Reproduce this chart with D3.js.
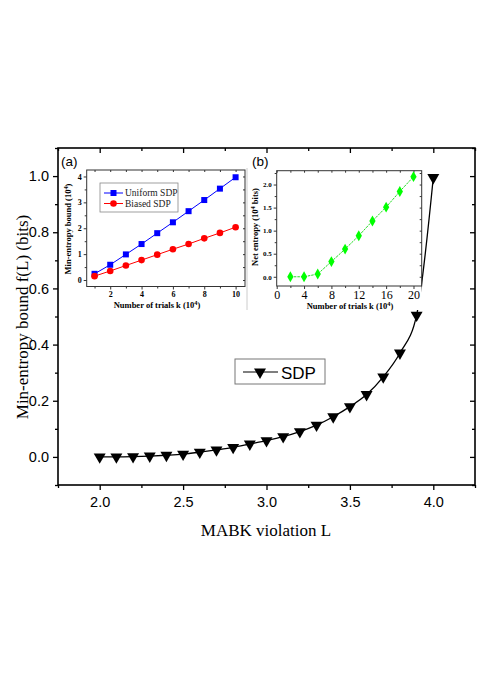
<!DOCTYPE html>
<html><head><meta charset="utf-8">
<script src="https://cdn.jsdelivr.net/npm/d3@7"></script>
<style>body{margin:0;background:#fff}svg{display:block}</style>
</head><body>
<script>
// ---- data ----
const mainL = [2.0,2.1,2.2,2.3,2.4,2.5,2.6,2.7,2.8,2.9,3.0,3.1,3.2,3.3,3.4,3.5,3.6,3.7,3.8,3.9,4.0];
const mainF = [0.000,0.000,0.001,0.003,0.006,0.010,0.017,0.025,0.034,0.046,0.058,0.072,0.090,0.113,0.143,0.179,0.222,0.285,0.370,0.505,0.995];
const mainXTicks = [2.0,2.5,3.0,3.5,4.0];
const mainYTicks = [0.0,0.2,0.4,0.6,0.8,1.0];

const trialsA = [1,2,3,4,5,6,7,8,9,10];
const uniformA = [0.24,0.59,0.99,1.39,1.81,2.23,2.66,3.09,3.53,3.97];
const biasedA = [0.15,0.35,0.56,0.77,0.98,1.19,1.39,1.61,1.82,2.04];
const aXTicks = [2,4,6,8,10];
const aYTicks = [0,1,2,3,4];

const trialsB = [2,4,6,8,10,12,14,16,18,20];
const netB = [0.0,0.0,0.06,0.33,0.60,0.89,1.21,1.51,1.85,2.17];
const bXTicks = [0,4,8,12,16,20];
const bYTicks = [0.0,0.5,1.0,1.5,2.0];

const W = 480, H = 679;
const svg = d3.select("body").append("svg").attr("width", W).attr("height", H);
svg.append("rect").attr("width", W).attr("height", H).attr("fill", "#fff");

const SANS = "'Liberation Sans', Arial, sans-serif";
const SERIF = "'Liberation Serif', 'Times New Roman', serif";

// ---- main chart ----
const x = d3.scaleLinear().domain([1.75, 4.25]).range([58, 475]);
const y = d3.scaleLinear().domain([-0.1, 1.1]).range([485, 148]);

const gMain = svg.append("g");
const xMinor = d3.range(1.75, 4.26, 0.25).filter(v => !mainXTicks.some(t => Math.abs(t - v) < 1e-6));
const yMinor = d3.range(-0.1, 1.11, 0.2).map(v => +v.toFixed(2));

function styleAxis(g, fs, font) {
  g.select(".domain").remove();
  g.selectAll("line").attr("stroke", "#000").attr("stroke-width", 1.3);
  g.selectAll("text").attr("font-family", font).attr("font-size", fs).attr("fill", "#000");
}
// bottom
gMain.append("g").attr("transform", `translate(0,${y.range()[0]})`)
  .call(d3.axisBottom(x).tickValues(mainXTicks).tickSize(5).tickPadding(7).tickFormat(d3.format(".1f")))
  .call(g => styleAxis(g, 14.5, SANS));
gMain.append("g").attr("transform", `translate(0,${y.range()[0]})`)
  .call(d3.axisBottom(x).tickValues(xMinor).tickSize(3).tickFormat(""))
  .call(g => styleAxis(g, 14, SANS));
// top (inward)
gMain.append("g").attr("transform", `translate(0,${y.range()[1]})`)
  .call(d3.axisBottom(x).tickValues(mainXTicks).tickSize(5).tickFormat(""))
  .call(g => styleAxis(g, 14, SANS));
gMain.append("g").attr("transform", `translate(0,${y.range()[1]})`)
  .call(d3.axisBottom(x).tickValues(xMinor).tickSize(3).tickFormat(""))
  .call(g => styleAxis(g, 14, SANS));
// left
gMain.append("g").attr("transform", `translate(${x.range()[0]},0)`)
  .call(d3.axisLeft(y).tickValues(mainYTicks).tickSize(5).tickPadding(4).tickFormat(d3.format(".1f")))
  .call(g => styleAxis(g, 14.5, SANS));
gMain.append("g").attr("transform", `translate(${x.range()[0]},0)`)
  .call(d3.axisLeft(y).tickValues(yMinor).tickSize(3).tickFormat(""))
  .call(g => styleAxis(g, 14, SANS));
// right (inward)
gMain.append("g").attr("transform", `translate(${x.range()[1]},0)`)
  .call(d3.axisLeft(y).tickValues(mainYTicks).tickSize(5).tickFormat(""))
  .call(g => styleAxis(g, 14, SANS));
gMain.append("g").attr("transform", `translate(${x.range()[1]},0)`)
  .call(d3.axisLeft(y).tickValues(yMinor).tickSize(3).tickFormat(""))
  .call(g => styleAxis(g, 14, SANS));

// data line
const mainData = mainL.map((l, i) => [l, mainF[i]]);
gMain.append("path").datum(mainData)
  .attr("fill", "none").attr("stroke", "#000").attr("stroke-width", 1.3)
  .attr("d", d3.line().x(d => x(d[0])).y(d => y(d[1])).curve(d3.curveMonotoneX));
const tri = d3.symbol().type(d3.symbolTriangle).size(62);
gMain.selectAll(".m").data(mainData).enter().append("path")
  .attr("d", tri).attr("fill", "#000")
  .attr("transform", d => `translate(${x(d[0])},${y(d[1])}) rotate(180)`);

// frame
gMain.append("rect").attr("x", x.range()[0]).attr("y", y.range()[1])
  .attr("width", x.range()[1] - x.range()[0]).attr("height", y.range()[0] - y.range()[1])
  .attr("fill", "none").attr("stroke", "#000").attr("stroke-width", 1.6);

// titles
svg.append("text").attr("x", 266).attr("y", 536).attr("text-anchor", "middle")
  .attr("font-family", SERIF).attr("font-size", 17).text("MABK violation L");
svg.append("text").attr("transform", "translate(28,317) rotate(-90)").attr("text-anchor", "middle")
  .attr("font-family", SERIF).attr("font-size", 17).text("Min-entropy bound f(L) (bits)");

// main legend
const lg = svg.append("g");
lg.append("rect").attr("x", 235).attr("y", 359).attr("width", 90).attr("height", 25)
  .attr("fill", "#fff").attr("stroke", "#777").attr("stroke-width", 1);
lg.append("line").attr("x1", 243).attr("x2", 278).attr("y1", 372).attr("y2", 372).attr("stroke", "#000").attr("stroke-width", 1.2);
lg.append("path").attr("d", tri).attr("fill", "#000").attr("transform", "translate(260,372) rotate(180)");
lg.append("text").attr("x", 281).attr("y", 379).attr("font-family", SANS).attr("font-size", 17).text("SDP");

// ---- inset backgrounds ----
svg.append("rect").attr("x", 60).attr("y", 166).attr("width", 186).attr("height", 146).attr("fill", "#fff");
svg.append("rect").attr("x", 247).attr("y", 166).attr("width", 174.5).attr("height", 144).attr("fill", "#fff");
svg.append("line").attr("x1", 247).attr("x2", 247).attr("y1", 168).attr("y2", 310).attr("stroke", "#ccc").attr("stroke-width", 1);

// panel labels
svg.append("text").attr("x", 61).attr("y", 166).attr("font-family", SANS).attr("font-size", 13.5).text("(a)");
svg.append("text").attr("x", 252).attr("y", 166).attr("font-family", SANS).attr("font-size", 13.5).text("(b)");

function supTitle(g, parts) {
  g.append("tspan").text(parts[0]);
  g.append("tspan").attr("dy", -3).attr("font-size", "75%").text(parts[1]);
  g.append("tspan").attr("dy", 3).text(parts[2]);
}

// ---- inset a ----
const xa = d3.scaleLinear().domain([0.5, 10.6]).range([86.7, 245]);
const ya = d3.scaleLinear().domain([-0.25, 4.25]).range([286.5, 170]);
const ga = svg.append("g");
const aXMinor = trialsA.filter(v => !aXTicks.includes(v));
const aYMinor = [0.5,1.5,2.5,3.5];
ga.append("g").attr("transform", `translate(0,${ya.range()[0]})`)
  .call(d3.axisBottom(xa).tickValues(aXTicks).tickSize(3).tickPadding(2).tickFormat(d3.format("d")))
  .call(g => styleAxis(g, 8, SERIF)).call(g => g.selectAll("text").attr("font-weight", "bold"))
  .call(g => g.selectAll("line").attr("stroke-width", 0.8));
ga.append("g").attr("transform", `translate(0,${ya.range()[0]})`)
  .call(d3.axisBottom(xa).tickValues(aXMinor).tickSize(2).tickFormat(""))
  .call(g => styleAxis(g, 8, SERIF)).call(g => g.selectAll("line").attr("stroke-width", 0.8));
ga.append("g").attr("transform", `translate(${xa.range()[0]},0)`)
  .call(d3.axisLeft(ya).tickValues(aYTicks).tickSize(3).tickPadding(2).tickFormat(d3.format("d")))
  .call(g => styleAxis(g, 8, SERIF)).call(g => g.selectAll("text").attr("font-weight", "bold"))
  .call(g => g.selectAll("line").attr("stroke-width", 0.8));
ga.append("g").attr("transform", `translate(${xa.range()[0]},0)`)
  .call(d3.axisLeft(ya).tickValues(aYMinor).tickSize(2).tickFormat(""))
  .call(g => styleAxis(g, 8, SERIF)).call(g => g.selectAll("line").attr("stroke-width", 0.8));
ga.append("g").attr("transform", `translate(${xa.range()[1]},0)`)
  .call(d3.axisLeft(ya).tickValues(aYTicks.concat(aYMinor)).tickSize(2).tickFormat(""))
  .call(g => styleAxis(g, 8, SERIF)).call(g => g.selectAll("line").attr("stroke-width", 0.8));
ga.append("g").attr("transform", `translate(0,${ya.range()[1]})`)
  .call(d3.axisBottom(xa).tickValues(trialsA).tickSize(2).tickFormat(""))
  .call(g => styleAxis(g, 8, SERIF)).call(g => g.selectAll("line").attr("stroke-width", 0.8));
ga.append("rect").attr("x", xa.range()[0]).attr("y", ya.range()[1])
  .attr("width", xa.range()[1] - xa.range()[0]).attr("height", ya.range()[0] - ya.range()[1])
  .attr("fill", "none").attr("stroke", "#333").attr("stroke-width", 1);

const lineA = d3.line().x(d => xa(d[0])).y(d => ya(d[1]));
const uData = trialsA.map((k, i) => [k, uniformA[i]]);
const bData = trialsA.map((k, i) => [k, biasedA[i]]);
ga.append("path").datum(uData).attr("fill", "none").attr("stroke", "#0000ff").attr("stroke-width", 1).attr("d", lineA);
ga.append("path").datum(bData).attr("fill", "none").attr("stroke", "#ff0000").attr("stroke-width", 1).attr("d", lineA);
ga.selectAll(".sq").data(uData).enter().append("rect")
  .attr("x", d => xa(d[0]) - 3).attr("y", d => ya(d[1]) - 3).attr("width", 6).attr("height", 6).attr("fill", "#0000ff");
ga.selectAll(".ci").data(bData).enter().append("circle")
  .attr("cx", d => xa(d[0])).attr("cy", d => ya(d[1])).attr("r", 3.3).attr("fill", "#ff0000");

// inset a legend
ga.append("rect").attr("x", 100).attr("y", 183).attr("width", 78).attr("height", 29)
  .attr("fill", "#fff").attr("stroke", "#888").attr("stroke-width", 0.8);
ga.append("line").attr("x1", 104).attr("x2", 123).attr("y1", 193).attr("y2", 193).attr("stroke", "#0000ff");
ga.append("rect").attr("x", 110.5).attr("y", 190).attr("width", 6).attr("height", 6).attr("fill", "#0000ff");
ga.append("text").attr("x", 125).attr("y", 196).attr("font-family", SERIF).attr("font-size", 9.5).attr("fill", "#222").text("Uniform SDP");
ga.append("line").attr("x1", 104).attr("x2", 123).attr("y1", 203.5).attr("y2", 203.5).attr("stroke", "#ff0000");
ga.append("circle").attr("cx", 113.5).attr("cy", 203.5).attr("r", 3.3).attr("fill", "#ff0000");
ga.append("text").attr("x", 125).attr("y", 206.5).attr("font-family", SERIF).attr("font-size", 9.5).attr("fill", "#222").text("Biased SDP");

const aXt = ga.append("text").attr("x", 157).attr("y", 308).attr("text-anchor", "middle")
  .attr("font-family", SERIF).attr("font-size", 8.5).attr("font-weight", "bold");
supTitle(aXt, ["Number of trials k (10", "4", ")"]);
const aYt = ga.append("text").attr("transform", "translate(71,229) rotate(-90)").attr("text-anchor", "middle")
  .attr("font-family", SERIF).attr("font-size", 8.5).attr("font-weight", "bold");
supTitle(aYt, ["Min-entropy bound (10", "4", ")"]);

// ---- inset b ----
const xb = d3.scaleLinear().domain([0, 21.2]).range([276.7, 421.7]);
const yb = d3.scaleLinear().domain([-0.2, 2.3]).range([286, 170.7]);
const gb = svg.append("g");
const bXMinor = [2,6,10,14,18];
const bYMinor = [0.25,0.75,1.25,1.75,2.25];
gb.append("g").attr("transform", `translate(0,${yb.range()[0]})`)
  .call(d3.axisBottom(xb).tickValues(bXTicks).tickSize(3).tickPadding(1).tickFormat(d3.format("d")))
  .call(g => styleAxis(g, 12, SERIF))
  .call(g => g.selectAll("line").attr("stroke-width", 0.8));
gb.append("g").attr("transform", `translate(0,${yb.range()[0]})`)
  .call(d3.axisBottom(xb).tickValues(bXMinor).tickSize(2).tickFormat(""))
  .call(g => styleAxis(g, 8, SERIF)).call(g => g.selectAll("line").attr("stroke-width", 0.8));
gb.append("g").attr("transform", `translate(${xb.range()[0]},0)`)
  .call(d3.axisLeft(yb).tickValues(bYTicks).tickSize(3).tickPadding(2).tickFormat(d3.format(".1f")))
  .call(g => styleAxis(g, 7, SERIF)).call(g => g.selectAll("text").attr("font-weight", "bold"))
  .call(g => g.selectAll("line").attr("stroke-width", 0.8));
gb.append("g").attr("transform", `translate(${xb.range()[0]},0)`)
  .call(d3.axisLeft(yb).tickValues(bYMinor).tickSize(2).tickFormat(""))
  .call(g => styleAxis(g, 8, SERIF)).call(g => g.selectAll("line").attr("stroke-width", 0.8));
gb.append("g").attr("transform", `translate(${xb.range()[1]},0)`)
  .call(d3.axisLeft(yb).tickValues(bYTicks.concat(bYMinor)).tickSize(2).tickFormat(""))
  .call(g => styleAxis(g, 8, SERIF)).call(g => g.selectAll("line").attr("stroke-width", 0.8));
gb.append("g").attr("transform", `translate(0,${yb.range()[1]})`)
  .call(d3.axisBottom(xb).tickValues(bXTicks.concat(bXMinor)).tickSize(2).tickFormat(""))
  .call(g => styleAxis(g, 8, SERIF)).call(g => g.selectAll("line").attr("stroke-width", 0.8));
gb.append("rect").attr("x", xb.range()[0]).attr("y", yb.range()[1])
  .attr("width", xb.range()[1] - xb.range()[0]).attr("height", yb.range()[0] - yb.range()[1])
  .attr("fill", "none").attr("stroke", "#333").attr("stroke-width", 1);

const nData = trialsB.map((k, i) => [k, netB[i]]);
gb.append("path").datum(nData).attr("fill", "none").attr("stroke", "#22dd22").attr("stroke-width", 1)
  .attr("stroke-dasharray", "2.5,1")
  .attr("d", d3.line().x(d => xb(d[0])).y(d => yb(d[1])));
const dia = d3.symbol().type(d3.symbolDiamond).size(34);
gb.selectAll(".dm").data(nData).enter().append("path")
  .attr("d", dia).attr("fill", "#00ff00")
  .attr("transform", d => `translate(${xb(d[0])},${yb(d[1])})`);

const bXt = gb.append("text").attr("x", 350).attr("y", 309).attr("text-anchor", "middle")
  .attr("font-family", SERIF).attr("font-size", 8.5).attr("font-weight", "bold");
supTitle(bXt, ["Number of trials k (10", "4", ")"]);
const bYt = gb.append("text").attr("transform", "translate(258,227) rotate(-90)").attr("text-anchor", "middle")
  .attr("font-family", SERIF).attr("font-size", 8.5).attr("font-weight", "bold");
supTitle(bYt, ["Net entropy (10", "4", " bits)"]);
</script>
</body></html>
